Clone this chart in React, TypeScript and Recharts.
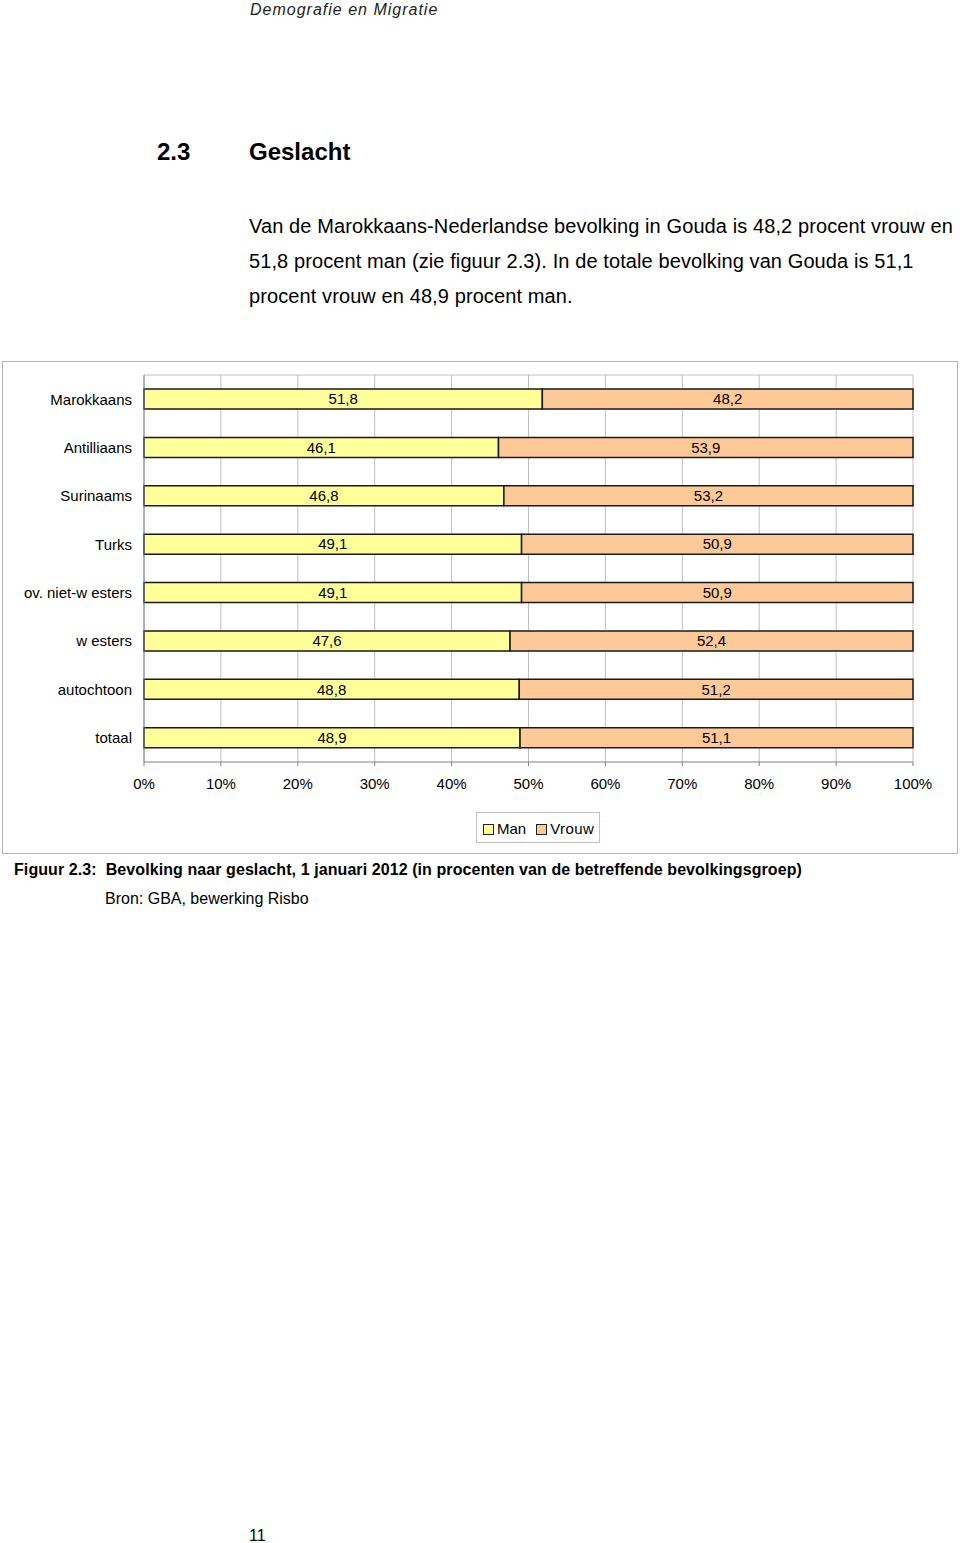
import React from "react";
import { Bar, BarChart, CartesianGrid, LabelList, XAxis, YAxis } from "recharts";

const groups = [
  "Marokkaans",
  "Antilliaans",
  "Surinaams",
  "Turks",
  "ov. niet-w esters",
  "w esters",
  "autochtoon",
  "totaal",
];
const man = [51.8, 46.1, 46.8, 49.1, 49.1, 47.6, 48.8, 48.9];
const vrouw = [48.2, 53.9, 53.2, 50.9, 50.9, 52.4, 51.2, 51.1];
const pctTicks = [0, 10, 20, 30, 40, 50, 60, 70, 80, 90, 100];
const bandTicks = [0, 1, 2, 3, 4, 5, 6, 7, 8];

const data = groups.map((g, i) => ({ group: g, man: man[i], vrouw: vrouw[i] }));

const MAN_FILL = "#ffff99";
const VROUW_FILL = "#fcc997";
const FONT = "'Liberation Sans', Arial, sans-serif";

const fmt = (v: any) => Number(v).toFixed(1).replace(".", ",");

function Swatch({ color }: { color: string }) {
  return (
    <span
      style={{
        display: "inline-block",
        width: 9,
        height: 9,
        background: color,
        border: "1.5px solid #222",
        marginRight: 3,
        verticalAlign: "-1px",
      }}
    />
  );
}

export default function App() {
  return (
    <div
      style={{
        position: "absolute",
        left: 0,
        top: 0,
        width: 960,
        height: 1543,
        background: "#fff",
        fontFamily: FONT,
        color: "#000",
      }}
    >
      <div
        style={{
          position: "absolute",
          left: 250,
          top: 0,
          fontSize: 16,
          fontStyle: "italic",
          letterSpacing: 1,
          color: "#222",
          lineHeight: "20px",
        }}
      >
        Demografie en Migratie
      </div>

      <div style={{ position: "absolute", left: 157, top: 139, fontSize: 24, fontWeight: "bold", lineHeight: "26px" }}>
        2.3
      </div>
      <div style={{ position: "absolute", left: 249, top: 139, fontSize: 24, fontWeight: "bold", lineHeight: "26px" }}>
        Geslacht
      </div>

      <div
        style={{
          position: "absolute",
          left: 249,
          top: 209,
          fontSize: 20,
          lineHeight: "35px",
          letterSpacing: 0.1,
          whiteSpace: "nowrap",
        }}
      >
        Van de Marokkaans-Nederlandse bevolking in Gouda is 48,2 procent vrouw en
        <br />
        51,8 procent man (zie figuur 2.3). In de totale bevolking van Gouda is 51,1
        <br />
        procent vrouw en 48,9 procent man.
      </div>

      {/* chart frame */}
      <div
        style={{
          position: "absolute",
          left: 2,
          top: 361,
          width: 954,
          height: 491,
          border: "1px solid #b4b4b4",
        }}
      />

      <div style={{ position: "absolute", left: 0, top: 355 }}>
        <BarChart
          width={960}
          height={445}
          data={data}
          layout="vertical"
          barSize={20}
          margin={{ top: 20, right: 47, bottom: 0, left: 0 }}
        >
          <CartesianGrid
            stroke="#c0c0c0"
            strokeWidth={1}
            horizontal={true}
            horizontalPoints={[20]}
            vertical={true}
          />
          <XAxis
            type="number"
            domain={[0, 100]}
            ticks={pctTicks}
            tickFormatter={(v) => `${v}%`}
            interval={0}
            height={38}
            tickSize={4}
            tickMargin={12}
            stroke="#808080"
            tick={{ fill: "#000", fontSize: 15, fontFamily: FONT }}
          />
          <YAxis
            yAxisId="bands"
            type="number"
            domain={[0, 8]}
            ticks={bandTicks}
            width={0}
            tickSize={4}
            tickFormatter={() => ""}
            stroke="#808080"
            axisLine={false}
          />
          <YAxis
            type="category"
            dataKey="group"
            width={144}
            tickLine={false}
            tickMargin={6}
            stroke="#808080"
            tick={{ fill: "#000", fontSize: 15, fontFamily: FONT }}
          />
          <Bar dataKey="man" stackId="a" fill={MAN_FILL} stroke="#1a1a1a" strokeWidth={1.5} isAnimationActive={false}>
            <LabelList dataKey="man" position="center" formatter={fmt} fill="#000" fontSize={15} fontFamily={FONT} />
          </Bar>
          <Bar dataKey="vrouw" stackId="a" fill={VROUW_FILL} stroke="#1a1a1a" strokeWidth={1.5} isAnimationActive={false}>
            <LabelList dataKey="vrouw" position="center" formatter={fmt} fill="#000" fontSize={15} fontFamily={FONT} />
          </Bar>
        </BarChart>
      </div>

      {/* legend */}
      <div
        style={{
          position: "absolute",
          left: 476,
          top: 812,
          width: 124,
          height: 31,
          border: "1px solid #c0c0c0",
          fontSize: 15,
          lineHeight: "31px",
          paddingLeft: 6,
          boxSizing: "border-box",
          whiteSpace: "nowrap",
        }}
      >
        <Swatch color={MAN_FILL} />
        <span style={{ marginRight: 10 }}>Man</span>
        <Swatch color={VROUW_FILL} />
        <span style={{ letterSpacing: 0.4 }}>Vrouw</span>
      </div>

      <div
        style={{
          position: "absolute",
          left: 14,
          top: 860,
          fontSize: 16,
          fontWeight: "bold",
          lineHeight: "20px",
          letterSpacing: 0.08,
          whiteSpace: "nowrap",
        }}
      >
        Figuur 2.3:&nbsp; Bevolking naar geslacht, 1 januari 2012 (in procenten van de betreffende bevolkingsgroep)
      </div>
      <div style={{ position: "absolute", left: 105, top: 889, fontSize: 16, lineHeight: "20px" }}>
        Bron: GBA, bewerking Risbo
      </div>

      <div style={{ position: "absolute", left: 249, top: 1526, fontSize: 16, lineHeight: "20px" }}>11</div>
    </div>
  );
}
